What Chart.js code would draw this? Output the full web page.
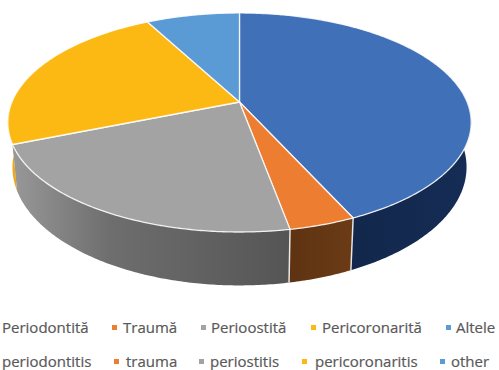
<!DOCTYPE html>
<html>
<head>
<meta charset="utf-8">
<style>
  html, body { margin: 0; padding: 0; background: #fff; }
  #wrap { position: relative; width: 499px; height: 370px; overflow: hidden; }
  #chart-pie { position: absolute; left: 0; top: 0; }
  .lg { position: absolute; font: 15px "Open Sans", sans-serif; color: #595959; white-space: nowrap; line-height: 18px; -webkit-text-stroke: 0.2px #595959; }
  .mk { position: absolute; width: 5px; height: 5px; }
</style>
<script src="https://cdn.jsdelivr.net/npm/chart.js@4/dist/chart.umd.js"></script>
</head>
<body>
<div id="wrap">
  <canvas id="chart-pie" width="499" height="300"></canvas>
</div>
<script>
const labelsRo = ['Periodontită', 'Traumă', 'Perioostită', 'Pericoronarită', 'Altele'];
const labelsEn = ['periodontitis', 'trauma', 'periostitis', 'pericoronaritis', 'other'];
const values = [43.2, 3.9, 21.8, 23.3, 7.8];

const topColors = ['#4070b8', '#ed7d31', '#a3a3a3', '#fdb913', '#5b9bd5'];
// wall gradients, left to right
const wallColors = [
  ['#12274b', '#152c55'],
  ['#5e3312', '#6b3b16'],
  ['#989898', '#6e6e6e', '#555555'],
  ['#f5b015', '#e0a010'],
  ['#2f5f90', '#2f5f90'],
];
const wallOrder = [3, 2, 0, 1];

// row layout: text x and marker x per row
const rowRo = { y: 318, text: [2, 123, 211, 322, 456], mark: [null, 112, 201, 311, 446] };
const rowEn = { y: 352, text: [2, 126, 210, 315, 451], mark: [null, 114, 199, 302, 440] };

// perspective of the pie disc, the lower disc sits 43px down and is seen a bit steeper
const apexX = 239.5, apexY = 102, radX = 227.6, radY = 105.7, persp = 0.187;
const lowDrop = 43, lowScaleX = 0.98, lowScaleY = 1.08;

function project(a, low) {
  const u = Math.cos(a), v = Math.sin(a);
  const w = 1 - persp * v;
  const sx = low ? lowScaleX : 1, sy = low ? lowScaleY : 1;
  return { x: apexX + radX * sx * u / w, y: apexY + (low ? lowDrop : 0) + radY * sy * v / w };
}

function arcPoints(start, end, low) {
  const pts = [];
  const n = Math.max(2, Math.ceil((end - start) / 0.01));
  for (let i = 0; i <= n; i++) pts.push(project(start + (end - start) * i / n, low));
  return pts;
}

function tracePoints(ctx, pts, first) {
  pts.forEach((p, i) => {
    if (i === 0 && first) ctx.moveTo(p.x, p.y);
    else ctx.lineTo(p.x, p.y);
  });
}

const pie3d = {
  id: 'pie3d',
  beforeDatasetsDraw(chart) {
    const ctx = chart.ctx;
    const arcs = chart.getDatasetMeta(0).data;
    const rim = 'rgba(255,255,255,0.85)';

    // side walls, only the part of each slice facing the viewer
    wallOrder.forEach(i => {
      const arc = arcs[i];
      const twoPi = Math.PI * 2;
      let start = arc.startAngle, end = arc.endAngle;
      while (start > twoPi) { start -= twoPi; end -= twoPi; }
      const from = Math.max(start, -0.1), to = Math.min(end, Math.PI + 0.1);
      if (to <= from) return;
      const upper = arcPoints(from, to, false);
      const lower = arcPoints(from, to, true);
      const xs = upper.concat(lower).map(p => p.x);
      const grad = ctx.createLinearGradient(Math.min(...xs), 0, Math.max(...xs), 0);
      wallColors[i].forEach((c, k) => {
        const stop = wallColors[i].length === 3 && k === 1 ? 0.35 : k / (wallColors[i].length - 1);
        grad.addColorStop(stop, c);
      });
      ctx.beginPath();
      tracePoints(ctx, upper, true);
      tracePoints(ctx, lower.reverse(), false);
      ctx.closePath();
      ctx.fillStyle = grad;
      ctx.fill();
    });

    // white seams between the walls
    ctx.strokeStyle = rim;
    ctx.lineWidth = 1.5;
    [arcs[0].endAngle, arcs[1].endAngle].forEach(a => {
      const p = project(a, false), q = project(a, true);
      ctx.beginPath();
      ctx.moveTo(p.x, p.y);
      ctx.lineTo(q.x, q.y);
      ctx.stroke();
    });

    // top faces
    arcs.forEach(arc => {
      ctx.beginPath();
      ctx.moveTo(apexX, apexY);
      tracePoints(ctx, arcPoints(arc.startAngle, arc.endAngle, false), false);
      ctx.closePath();
      ctx.fillStyle = arc.options.backgroundColor;
      ctx.fill();
      ctx.strokeStyle = rim;
      ctx.lineWidth = 1.3;
      ctx.lineJoin = 'round';
      ctx.stroke();
    });
    return false;
  }
};

new Chart(document.getElementById('chart-pie').getContext('2d'), {
  type: 'pie',
  data: {
    labels: labelsRo,
    datasets: [{ data: values, backgroundColor: topColors }]
  },
  options: {
    animation: false,
    responsive: false,
    plugins: { legend: { display: false }, tooltip: { enabled: false } }
  },
  plugins: [pie3d]
});

function addRow(names, row) {
  const wrap = document.getElementById('wrap');
  names.forEach((name, i) => {
    const t = document.createElement('div');
    t.className = 'lg';
    t.textContent = name;
    t.style.left = row.text[i] + 'px';
    t.style.top = row.y + 'px';
    wrap.appendChild(t);
    if (row.mark[i] !== null) {
      const m = document.createElement('div');
      m.className = 'mk';
      m.style.left = row.mark[i] + 'px';
      m.style.top = (row.y + 7) + 'px';
      m.style.background = topColors[i];
      wrap.appendChild(m);
    }
  });
}
addRow(labelsRo, rowRo);
addRow(labelsEn, rowEn);
</script>
</body>
</html>
